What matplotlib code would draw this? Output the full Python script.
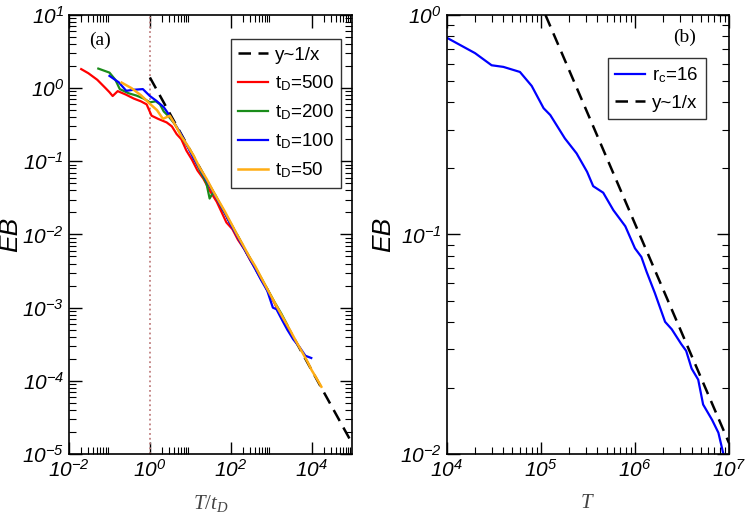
import matplotlib
matplotlib.use("Agg")
import matplotlib.pyplot as plt
from matplotlib.ticker import LogLocator, FuncFormatter, NullFormatter
import numpy as np

# panel (a): EB versus T/t_D for several t_D
x_500 = [0.02, 0.03, 0.05, 0.08, 0.1, 0.12, 0.16, 0.25, 0.4, 0.6, 0.83,
         1.1, 1.6, 2.6, 3.5, 4.6, 6, 8, 11, 15, 21, 30, 45, 78, 110, 150,
         220, 300, 450, 600, 800, 1000, 1500]
y_500 = [1.82, 1.6, 1.3, 1.0, 0.88, 0.78, 0.91, 0.82, 0.72, 0.66, 0.6,
         0.42, 0.38, 0.34, 0.3, 0.235, 0.2, 0.14, 0.105, 0.075, 0.058, 0.04,
         0.028, 0.0146, 0.0118, 0.0085, 0.0062, 0.0045, 0.0031, 0.0023,
         0.0018, 0.0014, 0.00092]

x_200 = [0.053, 0.1, 0.14, 0.18, 0.3, 0.47, 0.7, 1.0, 1.4, 1.77, 2.2, 2.8,
         4, 5, 7, 10, 14, 20, 25, 30, 35, 40, 60, 80, 110, 150, 220, 300,
         450, 600, 900, 1200, 1800, 2500]
y_200 = [1.85, 1.63, 1.3, 0.97, 0.85, 0.79, 0.72, 0.64, 0.66, 0.6, 0.48,
         0.42, 0.33, 0.27, 0.19, 0.14, 0.095, 0.064, 0.05, 0.031, 0.036,
         0.036, 0.023, 0.0175, 0.0128, 0.0095, 0.0063, 0.0047, 0.0032,
         0.0024, 0.0016, 0.0012, 0.00082, 0.00058]

x_100 = [0.1, 0.17, 0.26, 0.4, 0.67, 1.0, 1.45, 2.2, 3, 4.2, 6, 8.5, 12, 17,
         25, 35, 50, 70, 100, 140, 200, 280, 400, 560, 800, 1100, 1350,
         1800, 2500, 3500, 5000, 7000, 9800]
y_100 = [1.47, 1.2, 0.92, 0.95, 0.97, 0.78, 0.67, 0.55, 0.43, 0.32, 0.23,
         0.16, 0.11, 0.08, 0.055, 0.04, 0.028, 0.02, 0.0135, 0.0098, 0.0068,
         0.0049, 0.0034, 0.0024, 0.0017, 0.001, 0.00095, 0.0007, 0.0005,
         0.00037, 0.00029, 0.00022, 0.000205]

x_50 = [0.2, 0.35, 0.6, 1.0, 1.5, 2.1, 3.1, 4.3, 6, 8.5, 12, 17, 25, 35, 50,
        70, 100, 140, 200, 280, 400, 560, 800, 1100, 1500, 2100, 3000, 4200,
        6000, 8000, 10000, 13000, 17400]
y_50 = [1.19, 1.0, 0.8, 0.61, 0.5, 0.38, 0.42, 0.31, 0.22, 0.165, 0.12,
        0.082, 0.058, 0.041, 0.029, 0.021, 0.0145, 0.0102, 0.0072, 0.0051,
        0.0037, 0.0026, 0.0018, 0.0013, 0.00095, 0.00068, 0.00048, 0.00034,
        0.00024, 0.00018, 0.00014, 0.00011, 0.000083]

fit_a_x = [1, 1e5]
fit_a_y = [1.4, 1.4e-5]

# panel (b): EB versus T for r_c=16
x_rc = [1e4, 2e4, 3e4, 4e4, 6e4, 8e4, 1.07e5, 1.26e5, 1.8e5, 2.4e5, 3.1e5,
        3.6e5, 4.6e5, 5.9e5, 7.9e5, 1.0e6, 1.17e6, 1.33e6, 1.63e6, 2.09e6,
        2.46e6, 3.1e6, 3.5e6, 4.0e6, 4.7e6, 5.3e6, 6.6e6, 7.7e6, 8.7e6]
y_rc = [0.788, 0.67, 0.59, 0.58, 0.55, 0.475, 0.376, 0.35, 0.274, 0.234,
        0.193, 0.166, 0.155, 0.129, 0.109, 0.0865, 0.079, 0.0676, 0.054, 0.04,
        0.037, 0.0317, 0.0295, 0.0245, 0.0218, 0.0168, 0.0143, 0.0125, 0.01]

fit_b_x = [1.12e5, 1e7]
fit_b_y = [1.0, 0.0112]

plt.rcParams['mathtext.fontset'] = 'custom'
plt.rcParams['mathtext.rm'] = 'Liberation Serif'
plt.rcParams['mathtext.it'] = 'Liberation Serif:italic'
plt.rcParams['mathtext.sf'] = 'Liberation Sans:italic'
plt.rcParams['font.family'] = 'Liberation Sans'


def pow_label(v, pos):
    e = int(round(np.log10(v)))
    return r'$\mathsf{10^{%d}}$' % e


def style_axes(ax):
    ax.tick_params(which='both', direction='in', top=True, right=True,
                   labelsize=15)
    ax.tick_params(which='major', length=9, width=1)
    ax.tick_params(which='minor', length=5, width=0.8)
    for s in ax.spines.values():
        s.set_linewidth(1.2)
    ax.xaxis.set_major_formatter(FuncFormatter(pow_label))
    ax.yaxis.set_major_formatter(FuncFormatter(pow_label))
    ax.xaxis.set_minor_formatter(NullFormatter())
    ax.yaxis.set_minor_formatter(NullFormatter())


leg_kw = dict(loc='upper right', borderaxespad=0, fontsize=13.5,
              fancybox=False, edgecolor='black', handlelength=1.6,
              handletextpad=0.35, borderpad=0.4, labelspacing=0.5)

fig = plt.figure(figsize=(7.47, 5.16), dpi=100)
ax1 = fig.add_axes([0.0924, 0.1202, 0.3789, 0.8508])
ax2 = fig.add_axes([0.598, 0.1202, 0.378, 0.8508])

# (a)
ax1.axvline(1.0, color='#c08080', ls=':', lw=1.3)
ax1.plot(fit_a_x, fit_a_y, 'k--', lw=1.8, dashes=(5, 3), label='y~1/x')
ax1.plot(x_500, y_500, color='#ff0000', lw=1.6, label=r't$_\mathregular{D}$=500')
ax1.plot(x_200, y_200, color='#1a8c1a', lw=1.6, label=r't$_\mathregular{D}$=200')
ax1.plot(x_100, y_100, color='#0000ff', lw=1.6, label=r't$_\mathregular{D}$=100')
ax1.plot(x_50, y_50, color='#ffad14', lw=1.8, label=r't$_\mathregular{D}$=50')
ax1.set_xscale('log')
ax1.set_yscale('log')
ax1.set_xlim(1e-2, 1e5)
ax1.set_ylim(1e-5, 1e1)
ax1.xaxis.set_major_locator(LogLocator(base=100))
ax1.xaxis.set_minor_locator(LogLocator(base=100, subs=np.arange(2, 10)))
ax1.yaxis.set_major_locator(LogLocator(base=10))
ax1.yaxis.set_minor_locator(LogLocator(base=10, subs=np.arange(2, 10)))
style_axes(ax1)
ax1.set_xlabel(r'$T/t_D$', fontsize=15, color='#444444')
ax1.xaxis.set_label_coords(0.5, -0.088)
ax1.set_ylabel('EB', fontsize=19, style='italic')
ax1.yaxis.set_label_coords(-0.166, 0.5)
ax1.text(0.11, 0.943, '(a)', transform=ax1.transAxes, fontsize=14,
         family='Liberation Serif', ha='center', va='center')
leg1 = ax1.legend(bbox_to_anchor=(0.961, 0.945), **leg_kw)
leg1.get_frame().set_linewidth(1.0)

# (b)
ax2.plot(x_rc, y_rc, color='#0000ff', lw=1.6, label=r'r$_\mathregular{c}$=16')
ax2.plot(fit_b_x, fit_b_y, 'k--', lw=1.8, dashes=(5, 3), label='y~1/x')
ax2.set_xscale('log')
ax2.set_yscale('log')
ax2.set_xlim(1e4, 1e7)
ax2.set_ylim(1e-2, 1e0)
ax2.xaxis.set_major_locator(LogLocator(base=10))
ax2.xaxis.set_minor_locator(LogLocator(base=10, subs=np.arange(2, 10)))
ax2.yaxis.set_major_locator(LogLocator(base=10))
ax2.yaxis.set_minor_locator(LogLocator(base=10, subs=np.arange(2, 10)))
style_axes(ax2)
ax2.set_xlabel(r'$T$', fontsize=15, color='#444444')
ax2.xaxis.set_label_coords(0.5, -0.088)
ax2.set_ylabel('EB', fontsize=19, style='italic')
ax2.yaxis.set_label_coords(-0.183, 0.5)
ax2.text(0.844, 0.948, '(b)', transform=ax2.transAxes, fontsize=14,
         family='Liberation Serif', ha='center', va='center')
leg2 = ax2.legend(bbox_to_anchor=(0.918, 0.902), **leg_kw)
leg2.get_frame().set_linewidth(1.0)

fig.savefig('out.png', dpi=100)
